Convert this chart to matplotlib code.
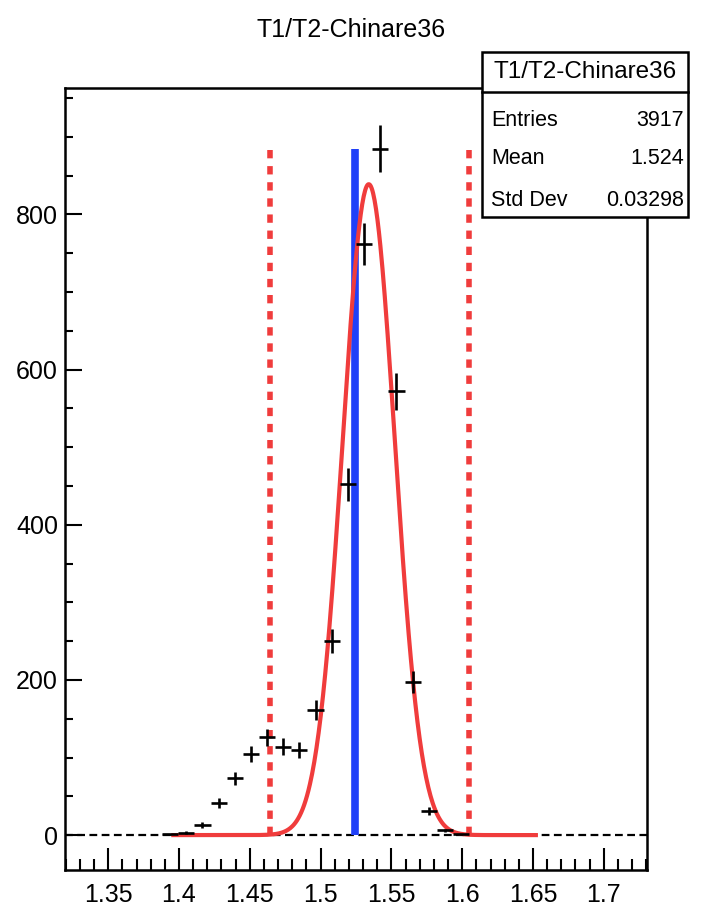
import numpy as np
import matplotlib
matplotlib.use('Agg')
import matplotlib.pyplot as plt
from matplotlib.patches import Rectangle
from matplotlib.lines import Line2D
from matplotlib.ticker import MultipleLocator

plt.rcParams['font.family'] = ['Liberation Sans', 'DejaVu Sans']

# histogram: 36 bins over the axis range
hist_lo = 1.3195
hist_hi = 1.7305
counts = [0, 0, 0, 0, 0, 0, 1, 3, 13, 41, 73, 104, 126, 114, 110, 161, 250, 452,
          762, 885, 572, 197, 31, 6, 1, 0, 0, 0, 0, 0, 0, 0, 0, 0, 0, 0]

# gaussian fit parameters
fit_amp = 839.0
fit_mean = 1.5340
fit_sigma = 0.0184
fit_range = [1.396, 1.652]

hist_mean = 1.524
limit_lines = [1.4640, 1.6048]

title = 'T1/T2-Chinare36'
stat_names = ['Entries', 'Mean', 'Std Dev']
stat_values = ['3917', '1.524', '0.03298']

RED = '#f03c3c'
BLUE = '#2040f8'

def main():
    counts_arr = np.array(counts, dtype=float)
    edges = np.linspace(hist_lo, hist_hi, len(counts) + 1)
    centers = 0.5 * (edges[:-1] + edges[1:])
    width = edges[1] - edges[0]

    fig = plt.figure(figsize=(7.01, 9.15), dpi=100)
    ax = fig.add_axes([65/701, 45/915, (647-65)/701, (870-88)/915])

    # zero line of the empty bins
    ax.axhline(0, color='black', lw=1.6, dashes=(3.5, 2), zorder=1)

    # fit curve
    xf = np.linspace(fit_range[0], fit_range[1], 500)
    yf = fit_amp * np.exp(-0.5 * ((xf - fit_mean) / fit_sigma) ** 2)
    ax.plot(xf, yf, color=RED, lw=3, zorder=3)

    # mean line and limits
    ax.vlines(hist_mean, 0, counts_arr.max(), color=BLUE, lw=5.5, zorder=2)
    ax.vlines(limit_lines, 0, counts_arr.max(), color=RED, lw=4,
              linestyles=(0, (1.5, 1.4)), zorder=2)

    # data points
    nz = counts_arr > 0
    ax.errorbar(centers[nz], counts_arr[nz], xerr=width / 2,
                yerr=np.sqrt(counts_arr[nz]), fmt='none', ecolor='black',
                elinewidth=1.9, capsize=0, zorder=4)

    ax.set_xlim(hist_lo, hist_hi)
    ax.set_ylim(-45, 963)

    ax.xaxis.set_major_locator(MultipleLocator(0.05))
    ax.xaxis.set_minor_locator(MultipleLocator(0.01))
    ax.yaxis.set_major_locator(MultipleLocator(200))
    ax.yaxis.set_minor_locator(MultipleLocator(50))
    ax.xaxis.set_major_formatter(plt.FuncFormatter(lambda v, p: ('%.2f' % v).rstrip('0')))

    ax.tick_params(axis='x', which='major', direction='in', length=16, width=1.5,
                   labelsize=18, pad=9)
    ax.tick_params(axis='x', which='minor', direction='in', length=8, width=1.5)
    ax.tick_params(axis='y', which='major', direction='in', length=12, width=1.5,
                   labelsize=18, pad=5)
    ax.tick_params(axis='y', which='minor', direction='in', length=6, width=1.5)
    for s in ax.spines.values():
        s.set_linewidth(1.8)

    fig.text(351/701, 1 - 30/915, title, ha='center', va='center', fontsize=18)

    # stat box
    bx0, bx1 = 482/701, 688/701
    by0, by1 = 1 - 217/915, 1 - 52/915
    ydiv = 1 - 92/915
    fig.patches.append(Rectangle((bx0, by0), bx1 - bx0, by1 - by0,
                                 transform=fig.transFigure, facecolor='white',
                                 edgecolor='black', lw=1.8, zorder=10))
    fig.lines.append(Line2D([bx0, bx1], [ydiv, ydiv], transform=fig.transFigure,
                            color='black', lw=1.8, zorder=11))
    fig.text((bx0 + bx1) / 2, 1 - 72/915, title, ha='center', va='center',
             fontsize=17.5, zorder=12)
    row_y = [120, 158, 200]
    for name, val, ry in zip(stat_names, stat_values, row_y):
        fig.text(491/701, 1 - ry/915, name, ha='left', va='center', fontsize=15.5, zorder=12)
        fig.text(684/701, 1 - ry/915, val, ha='right', va='center', fontsize=15.5, zorder=12)

    fig.savefig('out.png', dpi=100)

if __name__ == '__main__':
    main()
